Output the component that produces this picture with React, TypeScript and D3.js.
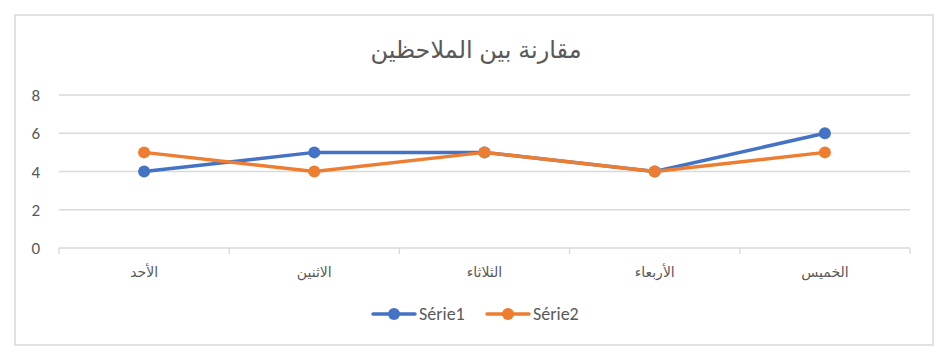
import React from "react";
import * as d3 from "d3";

const categories = ["الأحد", "الاثنين", "الثلاثاء", "الأربعاء", "الخميس"];
const serie1 = [4, 5, 5, 4, 6];
const serie2 = [5, 4, 5, 4, 5];
const seriesNames = ["Série1", "Série2"];
const yTicks = [0, 2, 4, 6, 8];
const title = "مقارنة بين الملاحظين";

const colors = ["#4472C4", "#ED7D31"];
const W = 948;
const H = 360;
const font = "Calibri, Carlito, 'Open Sans', 'DejaVu Sans', sans-serif";
const arabicFont = "Arial, 'Liberation Sans', 'DejaVu Sans', sans-serif";

export default function App() {
  const x = d3.scaleBand<string>().domain(categories).range([59, 910]);
  const y = d3.scaleLinear().domain([0, 8]).range([248, 95]);
  const line = d3
    .line<number>()
    .x((_, i) => (x(categories[i]) as number) + x.bandwidth() / 2)
    .y((d) => y(d));
  const data = [serie1, serie2];
  const boundaries = categories.map((c) => x(c) as number).concat([910]);

  return (
    <svg
      width={W}
      height={H}
      style={{ position: "absolute", left: 0, top: 0 }}
      fontFamily={font}
    >
      <rect x={0} y={0} width={W} height={H} fill="#fff" />
      <rect x={15} y={15} width={918} height={330} fill="#fff" stroke="#d9d9d9" strokeWidth={1.5} />
      <text x={476} y={58} textAnchor="middle" fontSize={24} fill="#595959" fontFamily={arabicFont}>
        {title}
      </text>
      {yTicks.map((t) => (
        <g key={t}>
          <line x1={59} x2={910} y1={y(t)} y2={y(t)} stroke="#d9d9d9" strokeWidth={1.3} />
          <text x={40} y={y(t) + 6} textAnchor="end" fontSize={17} fill="#595959">
            {t}
          </text>
        </g>
      ))}
      {boundaries.map((b, i) => (
        <line key={i} x1={b} x2={b} y1={248} y2={254} stroke="#d9d9d9" strokeWidth={1.3} />
      ))}
      {categories.map((c) => (
        <text
          key={c}
          x={(x(c) as number) + x.bandwidth() / 2}
          y={277}
          textAnchor="middle"
          fontSize={14}
          fill="#595959"
          fontFamily={arabicFont}
        >
          {c}
        </text>
      ))}
      {data.map((s, si) => (
        <g key={si}>
          <path d={line(s) || ""} fill="none" stroke={colors[si]} strokeWidth={3.5} strokeLinecap="round" strokeLinejoin="round" />
          {s.map((v, i) => (
            <circle
              key={i}
              cx={(x(categories[i]) as number) + x.bandwidth() / 2}
              cy={y(v)}
              r={6}
              fill={colors[si]}
            />
          ))}
        </g>
      ))}
      {seriesNames.map((n, i) => {
        const lx = 373 + i * 114;
        return (
          <g key={n}>
            <line x1={lx} x2={lx + 42} y1={314} y2={314} stroke={colors[i]} strokeWidth={3.5} strokeLinecap="round" />
            <circle cx={lx + 21} cy={314} r={6} fill={colors[i]} />
            <text x={lx + 46} y={320} fontSize={18} fill="#595959">
              {n}
            </text>
          </g>
        );
      })}
    </svg>
  );
}
